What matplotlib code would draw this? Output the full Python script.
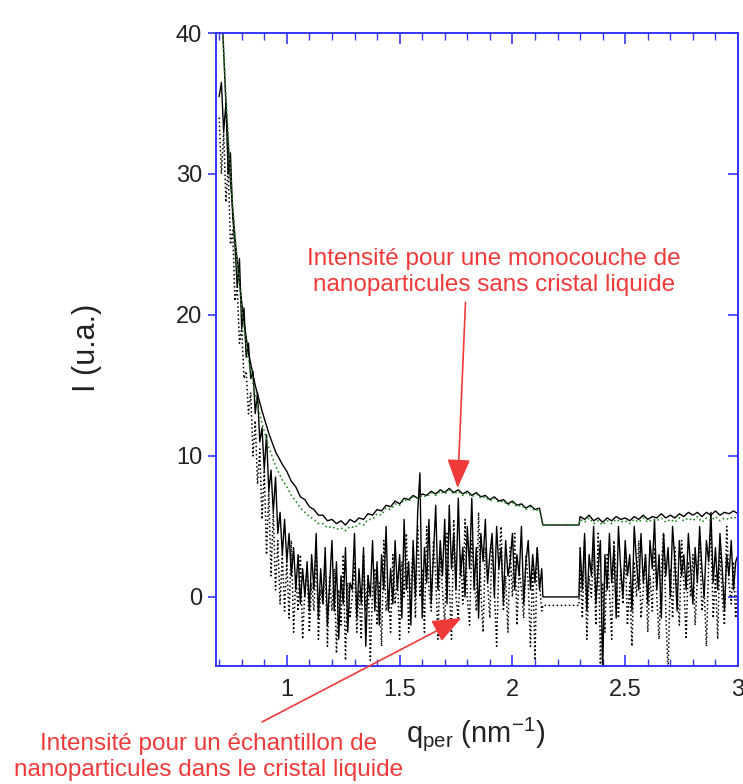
import numpy as np
import matplotlib
matplotlib.use("Agg")
import matplotlib.pyplot as plt
from matplotlib.ticker import MultipleLocator, FuncFormatter

plt.rcParams['font.family'] = ['Liberation Sans', 'DejaVu Sans']

# ---- data ----
# lower curves (sample in liquid crystal), step 0.01 in q
low_start_a, low_step = 0.70, 0.01
low_solid_a = [35.5, 36.5, 33, 35, 30, 31.5, 27, 25, 22, 24,
               19, 20.5, 17, 18, 15.5, 16, 13, 14.5, 11, 12,
               9, 11.5, 7.5, 9, 6, 8.5, 4.5, 6, 3, 5.5,
               2.5, 4.5, 1.5, 3.5, 0.5, 3, -0.5, 2, 0, 2.5,
               -1, 3, 0.5, 4.5, -1.5, 2, -0.5, 3.5, -2, 1,
               4, -1, 2.5, -3, 1.5, -0.5, 3.5, -2.5, 1, 0.5,
               4.5, -1.5, 2, -0.5, 3.5, -3.5, 1.5, 0, 4, -1,
               2.5, -2, 3, 0.5, 5, -1, 2, -0.5, 4, 0.5,
               3, -1.5, 5.5, 0.5, 2.5, -2, 4, 0, 6, 8.8,
               -1.5, 3.5, 1, 5.5, -0.5, 3, 6.5, 0.5, 4, 1.5,
               5.5, -0.5, 6.5, 2, 4.5, 0.5, 7, 1.5, 3.5, 0,
               5, 2, 7, 0.5, 3.5, -1.5, 4.5, 2.5, 5.5, 1,
               3, 4.5, 0, 5, 2, 3.5, -0.5, 4, 1.5, 2.5,
               4.5, 0.5, 3, 1.5, 5, -0.5, 2.5, 4, 0.5, 3,
               1, 3.5, 0.5, 2]
low_dot_a = [34, 30, 33, 28, 30.5, 25, 26, 21, 22, 18,
             19, 15.5, 16, 13, 14.5, 10, 12.5, 8, 10.5, 5.5,
             9, 3, 7.5, 1.5, 6, 0.5, 4, -0.5, 3, -1,
             2.5, -1.5, 4, -2.5, 1.5, -1, 3, -3, 0.5, 2,
             -2.5, 1, -1, 3.5, -3, 0.5, -0.5, 2.5, -3.5, 1.5,
             -1, 2, -4, 0.5, -2, 3, -4.5, 1, -1.5, 0,
             2.5, -2.5, 0.5, -3, 3, -1, 1.5, -4.5, 0.5, 2,
             -2, 1, -3.5, 4, -1, 0.5, -2.5, 3, -0.5, 1.5,
             -3, 2.5, 0, 4.5, -2.5, 1, 3.5, -1.5, 5, 0,
             2, -2.5, 5, 0.5, -1, 4, 1.5, -3, 3, 0.5,
             -2, 4.5, 1, -3, 5.5, 0, -1.5, 3, -0.5, 5.5,
             0, -2, 4, 1.5, -1, 6, 0.5, -2.5, 3.5, 1,
             -1.5, 4, 0.5, -3.5, 2.5, 5, -1, 1.5, -2.5, 3.5,
             0, 4.5, -2, 2, 0.5, -1.5, 3, 1, -3.5, 2.5,
             -4.5, 3.5, 1, -1]
# detector gap
gap_q = [2.135, 2.295]
low_solid_gap = [0, 0]
low_dot_gap = [-0.6, -0.6]
upper_gap = [5.1, 5.1]
green_gap = [5.1, 5.1]
low_start_b = 2.30
low_solid_b = [3.5, 0.5, 4.5, -1, 3, 1.5, 5, -0.5, 2, 4,
               -5.5, 3, 0.5, 4.5, 1, 3.5, -1.5, 5, 2, 0,
               4, 1.5, 3, -1, 5, 2.5, 0.5, 4.5, 1, 3,
               -0.5, 4, 2, 5.5, 0.5, 3, -1.5, 4.5, 1.5, 3.5,
               0, 5, 2.5, -1, 4, 1.5, 3, 0.5, 4.5, 2,
               -0.5, 3.5, 1, 5, 2, 0, 4, 2.5, 6, 1,
               3.5, 0.5, 4.5, 2, -1, 3, 1.5, 4, 0.5, 2.5,
               3]
low_dot_b = [2, -1.5, 4, -3, 1.5, 0, 3.5, -2, 4.5, -4.8,
             1, -2.5, 3, 0.5, -3, 4, 1.5, -1.5, 2, -0.5,
             3.5, -2, 1, -3.5, 2.5, 0, 4, -1.5, 0.5, 3,
             -2.5, 1.5, -1, 3.5, 0, -3, 2, 4.5, -1, -5.5,
             2, -1.5, 3.5, 0.5, -2, 4, 1, -3, 2.5, 0,
             3, -2, 1.5, 4, -1, 0.5, -3.5, 2.5, 4.5, -1.5,
             1.5, -3, 3.5, 0, -2, 5, 1, -0.5, 2.5, -1.5,
             1]

# upper curves (monolayer without liquid crystal)
decay_q = [0.715, 0.73, 0.75, 0.77, 0.79, 0.81, 0.83, 0.86, 0.89, 0.92, 0.95, 0.98]
upper_decay = [40.5, 35, 29.5, 25.5, 22.3, 19.5, 17.3, 15.0, 13.2, 11.6, 10.3, 9.4]
green_decay = [40.5, 35.5, 30, 25.5, 22, 19, 16.8, 14.3, 12.3, 10.6, 9.3, 8.3]
up_start_a, up_step = 1.00, 0.02
upper_a = [8.9, 8.2, 7.8, 7.1, 6.9, 6.4, 6.2, 5.8, 5.8, 5.4,
           5.5, 5.2, 5.4, 5.1, 5.5, 5.3, 5.6, 5.5, 5.9, 5.8,
           6.2, 6.1, 6.5, 6.4, 6.8, 6.6, 7.0, 6.9, 7.2, 7.0,
           7.3, 7.2, 7.5, 7.3, 7.6, 7.4, 7.7, 7.4, 7.6, 7.3,
           7.5, 7.2, 7.4, 7.1, 7.2, 6.9, 7.1, 6.8, 6.9, 6.6,
           6.8, 6.5, 6.6, 6.3, 6.5, 6.2, 6.3]
green_a = [7.8, 7.2, 6.8, 6.3, 6.0, 5.7, 5.5, 5.2, 5.2, 4.9,
           5.0, 4.8, 4.9, 4.7, 5.0, 4.9, 5.2, 5.1, 5.5, 5.5,
           5.9, 5.8, 6.3, 6.2, 6.6, 6.5, 6.9, 6.8, 7.1, 7.0,
           7.2, 7.1, 7.4, 7.2, 7.5, 7.3, 7.6, 7.3, 7.5, 7.2,
           7.4, 7.1, 7.3, 7.0, 7.1, 6.8, 7.0, 6.7, 6.8, 6.5,
           6.7, 6.4, 6.5, 6.2, 6.4, 6.1, 6.2]
up_start_b = 2.30
upper_b = [5.7, 5.5, 5.8, 5.4, 5.6, 5.3, 5.6, 5.4, 5.7, 5.5,
           5.6, 5.4, 5.7, 5.5, 5.8, 5.5, 5.7, 5.6, 5.9, 5.6,
           5.8, 5.6, 5.9, 5.7, 6.0, 5.8, 6.0, 5.7, 6.0, 5.8,
           6.1, 5.8, 6.0, 5.9, 6.1, 5.9]
green_b = [5.5, 5.3, 5.6, 5.2, 5.4, 5.1, 5.4, 5.2, 5.5, 5.3,
           5.4, 5.2, 5.5, 5.3, 5.6, 5.3, 5.5, 5.4, 5.6, 5.3,
           5.5, 5.3, 5.6, 5.4, 5.6, 5.4, 5.7, 5.3, 5.6, 5.4,
           5.7, 5.4, 5.6, 5.5, 5.7, 5.5]


def qgrid(start, step, vals):
    return list(start + step * np.arange(len(vals)))


q_low = qgrid(low_start_a, low_step, low_solid_a) + gap_q + qgrid(low_start_b, low_step, low_solid_b)
low_solid = low_solid_a + low_solid_gap + low_solid_b
low_dot = low_dot_a + low_dot_gap + low_dot_b

q_up = decay_q + qgrid(up_start_a, up_step, upper_a) + gap_q + qgrid(up_start_b, up_step, upper_b)
upper = upper_decay + upper_a + upper_gap + upper_b
green = green_decay + green_a + green_gap + green_b

# ---- figure ----
blue = '#3636ff'
red = '#f03a3a'
txt = '#222222'
fig = plt.figure(figsize=(7.43, 7.84), dpi=100)
ax = fig.add_axes([216 / 743, 118 / 784, 522 / 743, 633 / 784])

ax.plot(q_low, low_solid, color='black', lw=1.0)
ax.plot(q_low, low_dot, color='black', lw=1.1, ls=':')
ax.plot(q_up, upper, color='black', lw=1.0)
ax.plot(q_up, green, color='#2a8a2a', lw=1.2, ls=':')

ax.set_xlim(0.686, 3.0)
ax.set_ylim(-4.9, 40)

for s in ax.spines.values():
    s.set_color(blue)
    s.set_linewidth(1.4)

ax.xaxis.set_major_locator(MultipleLocator(0.5))
ax.xaxis.set_minor_locator(MultipleLocator(0.1))
ax.xaxis.set_major_formatter(FuncFormatter(lambda v, p: '%g' % v))
ax.yaxis.set_major_locator(MultipleLocator(10))
ax.tick_params(axis='x', which='both', direction='in', top=True, bottom=True,
               color=blue, labelsize=17, labelcolor=txt, pad=9)
ax.tick_params(axis='x', which='major', length=8, width=1.2)
ax.tick_params(axis='x', which='minor', length=5, width=1.0)
ax.tick_params(axis='y', which='major', direction='out', length=6, width=1.2,
               color=blue, labelsize=17, labelcolor=txt, pad=4)

ax_r = ax.secondary_yaxis('right')
ax_r.yaxis.set_major_locator(MultipleLocator(10))
ax_r.tick_params(direction='in', length=7, width=1.2, color=blue, labelright=False)
ax_r.spines['right'].set_color(blue)
ax_r.spines['right'].set_linewidth(1.4)

ax.set_ylabel('I (u.a.)', fontsize=22, color=txt)
ax.yaxis.set_label_coords(-0.218, 0.503)
ax.set_xlabel(r'q$_{\mathregular{per}}$ (nm$^{\mathregular{-1}}$)', fontsize=21, color=txt)
ax.xaxis.set_label_coords(0.498, -0.078)

note_font = dict(family=['Liberation Sans Narrow', 'Liberation Sans'], fontsize=17.5,
                 color=red, ha='center', va='center', linespacing=1.2)
fig.text(494 / 743, 1 - 272 / 784,
         'Intensité pour une monocouche de\nnanoparticules sans cristal liquide', **note_font)
fig.text(209 / 743, 1 - 757 / 784,
         'Intensité pour un échantillon de\nnanoparticules dans le cristal liquide', **note_font)

arrow = dict(arrowstyle='-|>,head_length=1.0,head_width=0.4', color=red, lw=1.2,
             mutation_scale=18, shrinkA=0, shrinkB=0)
ax.annotate('', xy=(1.757, 7.73), xytext=(1.792, 20.9), arrowprops=arrow)
ax.annotate('', xy=(1.774, -1.49), xytext=(262, 62), textcoords='figure pixels',
            arrowprops=arrow, annotation_clip=False)

fig.savefig('out.png', dpi=100)
